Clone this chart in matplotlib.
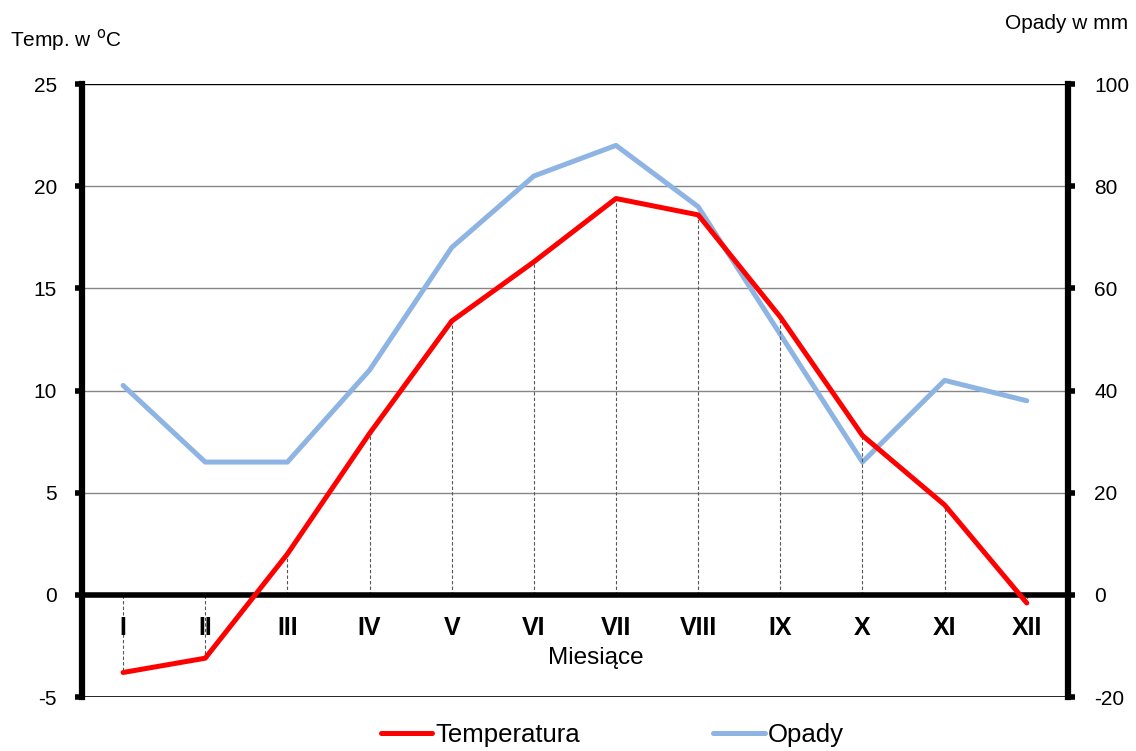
import matplotlib

matplotlib.use("Agg")
from matplotlib import pyplot

months = ["I", "II", "III", "IV", "V", "VI", "VII", "VIII", "IX", "X", "XI", "XII"]
temperature = [-3.8, -3.1, 2.0, 7.9, 13.4, 16.3, 19.4, 18.6, 13.6, 7.8, 4.4, -0.4]
precipitation = [41, 26, 26, 44, 68, 82, 88, 76, 51, 26, 42, 38]
temp_ticks = [-5, 0, 5, 10, 15, 20, 25]
prec_ticks = [-20, 0, 20, 40, 60, 80, 100]

pyplot.rcParams["font.family"] = ["Liberation Sans", "DejaVu Sans"]
pyplot.rcParams["axes.unicode_minus"] = False

figure = pyplot.figure(figsize=(11.36, 7.51), dpi=100)
axis = figure.add_axes([0.0722, 0.0719, 0.8678, 0.8161])
axis.set_zorder(2)
axis.patch.set_visible(False)
right = axis.twinx()
right.set_zorder(1)

positions = list(range(len(months)))

# gridlines and frame
for value in temp_ticks[1:-1]:
    right.axhline(value * 4, color="#868686", linewidth=1.0, zorder=0)
right.axhline(100, color="black", linewidth=1.0, zorder=0)
right.axhline(-20, color="black", linewidth=1.2, zorder=0)

# drop lines from the temperature line to zero
axis.vlines(positions, 0, temperature, colors="#555555", linestyles=(0, (3, 2)), linewidth=0.8, zorder=1)
axis.axhline(0, color="black", linewidth=4.0, zorder=2)

right.plot(positions, precipitation, color="#8EB4E3", linewidth=3.6, solid_capstyle="round", label="Opady")
axis.plot(positions, temperature, color="#FF0000", linewidth=3.6, solid_capstyle="round", label="Temperatura", zorder=3)

axis.set_xlim(-0.5, len(months) - 0.5)
axis.set_ylim(-5, 25)
right.set_ylim(-20, 100)
axis.set_yticks(temp_ticks)
right.set_yticks(prec_ticks)

for spine in ("top", "bottom"):
    axis.spines[spine].set_visible(False)
    right.spines[spine].set_visible(False)
axis.spines["right"].set_visible(False)
right.spines["left"].set_visible(False)
axis.spines["left"].set_linewidth(4.5)
right.spines["right"].set_linewidth(4.5)

axis.tick_params(axis="y", direction="out", length=5, width=4, labelsize=15, pad=13)
right.tick_params(axis="y", direction="out", length=5, width=4, labelsize=15, pad=14)
axis.set_xticks([])
for index, month in enumerate(months):
    axis.text(index, -1.6, month, ha="center", va="center", fontsize=18, fontweight="bold")
axis.text(5.75, -3.1, "Miesiące", ha="center", va="center", fontsize=17.5)

figure.text(0.009, 0.947, r"Temp. w $^{\mathrm{o}}$C", ha="left", va="center", fontsize=15)
figure.text(0.993, 0.969, "Opady w mm", ha="right", va="center", fontsize=15)

handles = axis.get_lines()[-1:] + right.get_lines()[-1:]
figure.legend(handles, [h.get_label() for h in handles], loc="center", bbox_to_anchor=(0.539, 0.021),
              ncol=2, frameon=False, fontsize=18.5, handlelength=2.0, columnspacing=5.2,
              handletextpad=0.12, borderpad=0.0)

figure.savefig("out.png")
pyplot.close(figure)
